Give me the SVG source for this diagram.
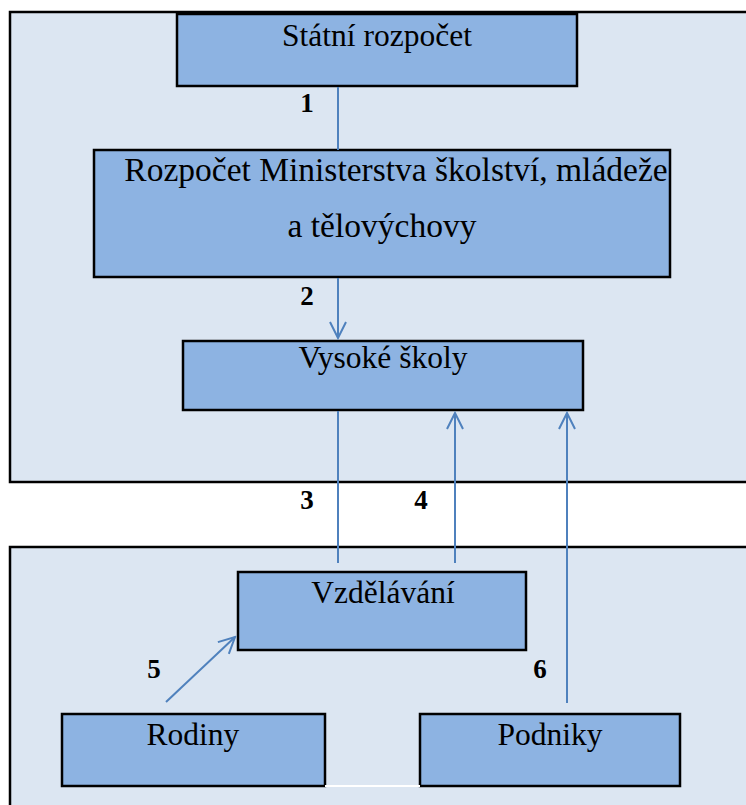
<svg xmlns="http://www.w3.org/2000/svg" width="746" height="805" viewBox="0 0 746 805">
<style>
.panel{fill:#DCE6F2;stroke:#000;stroke-width:2.5}
.box{fill:#8DB3E2;stroke:#000;stroke-width:2.5}
.t{font-family:"Liberation Serif","Times New Roman",serif;font-size:31.5px;fill:#000;text-anchor:middle}
.big{font-size:33.5px}
.n{font-family:"Liberation Serif","Times New Roman",serif;font-size:27px;font-weight:bold;fill:#000;text-anchor:middle}
.c{stroke:#4F81BD;stroke-width:2;fill:none}
</style>
<defs>
<marker id="ah" viewBox="0 0 20 20" refX="18" refY="10" markerWidth="20" markerHeight="20" markerUnits="userSpaceOnUse" orient="auto">
<path d="M2,2 L18,10 L2,18" fill="none" stroke="#4F81BD" stroke-width="2"/>
</marker>
</defs>
<rect width="746" height="805" fill="#fff"/>
<g id="panel-top"><rect class="panel" x="10" y="12" width="750" height="470"/></g>
<g id="panel-bottom"><rect class="panel" x="10" y="547" width="750" height="270"/></g>
<g id="statni"><rect class="box" x="177" y="14" width="400" height="72"/><text class="t" x="377" y="46">Státní rozpočet</text></g>
<g id="msmt"><rect class="box" x="94" y="150" width="576" height="127"/><text class="t big" x="396" y="181">Rozpočet Ministerstva školství, mládeže</text><text class="t big" x="382" y="237">a tělovýchovy</text></g>
<g id="vysoke"><rect class="box" x="183" y="341" width="400" height="69"/><text class="t" x="383" y="368">Vysoké školy</text></g>
<g id="vzdelavani"><rect class="box" x="238" y="572" width="288" height="78"/><text class="t" x="383" y="603">Vzdělávání</text></g>
<g id="rodiny"><rect class="box" x="62" y="714" width="263" height="72"/><text class="t" x="193" y="745">Rodiny</text></g>
<g id="podniky"><rect class="box" x="420" y="714" width="260" height="72"/><text class="t" x="550" y="745">Podniky</text></g>
<line x1="325" y1="786" x2="420" y2="786" stroke="#fff" stroke-width="2"/>
<g id="connectors">
<line class="c" x1="338" y1="87" x2="338" y2="150"/>
<line class="c" x1="338" y1="278" x2="338" y2="338" marker-end="url(#ah)"/>
<line class="c" x1="338" y1="411" x2="338" y2="563"/>
<line class="c" x1="455" y1="563" x2="455" y2="413" marker-end="url(#ah)"/>
<line class="c" x1="567" y1="703" x2="567" y2="413" marker-end="url(#ah)"/>
<line class="c" x1="166" y1="702" x2="235" y2="637" marker-end="url(#ah)"/>
</g>
<g id="labels">
<text class="n" x="307" y="112">1</text>
<text class="n" x="307" y="305">2</text>
<text class="n" x="307" y="509">3</text>
<text class="n" x="421" y="509">4</text>
<text class="n" x="154" y="678">5</text>
<text class="n" x="540" y="678">6</text>
</g>
</svg>
